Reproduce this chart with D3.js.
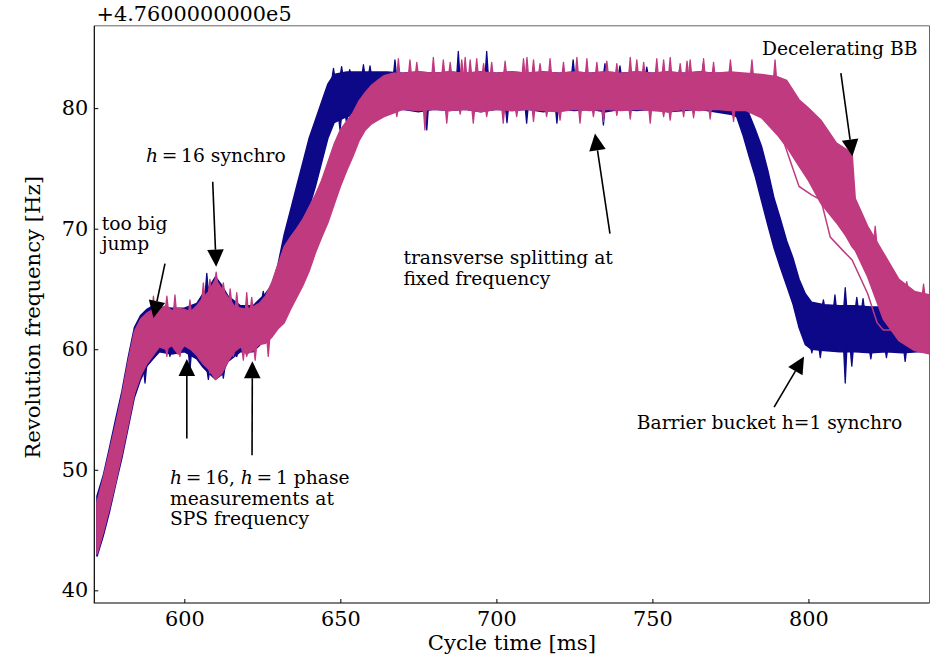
<!DOCTYPE html>
<html>
<head>
<meta charset="utf-8">
<script src="https://cdn.jsdelivr.net/npm/d3@7"></script>
<style>
  body { margin: 0; background: #fff; }
  text { font-family: 'DejaVu Serif', serif; fill: #000; }
</style>
</head>
<body>
<svg id="chart" width="933" height="656"></svg>
<script>
// offset of the y values (Hz), shown as the axis offset text
const yOffsetLabel = '+4.7600000000e5';

// blue traces: time [ms], lower / upper edge of the band [Hz]
const navyT = [
  572, 574, 576, 578, 580, 582, 584, 586, 588, 590,
  592, 596, 600, 604, 606, 608, 610, 612, 614, 618,
  622, 626, 628, 630, 632, 634, 636, 638, 640, 642,
  644, 646, 648, 652, 656, 660, 665, 670, 675, 680,
  685, 690, 695, 700, 705, 710, 715, 720, 725, 730,
  735, 740, 745, 750, 755, 760, 765, 770, 775, 777,
  779, 781, 783, 785, 787, 789, 791, 793, 795, 797,
  799, 801, 805, 810, 815, 820, 825, 830, 835, 839];
const navyLo = [
  42.8, 44.5, 46.5, 48.8, 51.0, 53.5, 56.0, 57.5, 58.6, 59.2,
  59.8, 59.6, 59.8, 59.2, 58.5, 58.0, 57.5, 57.9, 59.0, 59.8,
  59.8, 60.8, 61.5, 62.5, 64.3, 66.5, 68.5, 70.0, 71.8, 73.5,
  75.5, 77.5, 78.8, 79.3, 79.5, 79.6, 79.8, 79.9, 79.7, 79.9,
  79.8, 79.9, 79.7, 79.9, 79.8, 79.9, 79.7, 79.9, 79.8, 79.9,
  79.7, 79.9, 79.8, 79.9, 79.7, 79.8, 79.9, 79.7, 79.5, 79.3,
  77.8, 76.0, 74.3, 72.3, 70.3, 68.4, 66.8, 65.3, 63.8, 61.8,
  60.4, 60.0, 59.9, 59.8, 59.8, 59.7, 59.8, 59.7, 59.8, 59.8];
const navyHi = [
  47.8, 49.5, 51.8, 54.2, 56.5, 59.3, 61.8, 62.8, 63.3, 63.6,
  63.5, 63.4, 63.4, 63.8, 64.6, 65.2, 66.0, 65.3, 64.4, 63.6,
  63.6, 64.6, 65.3, 67.0, 69.5, 71.5, 73.5, 75.5, 77.5, 79.0,
  80.5, 82.0, 82.8, 83.0, 83.0, 83.0, 83.0, 82.9, 83.0, 82.9,
  83.0, 82.9, 83.0, 82.9, 83.0, 82.9, 83.0, 82.9, 83.0, 82.9,
  83.0, 82.9, 83.0, 82.9, 83.0, 82.9, 83.0, 82.9, 82.9, 82.8,
  81.5, 79.5, 78.2, 76.8, 74.8, 72.5, 70.8, 69.0, 67.6, 65.8,
  64.6, 63.9, 63.7, 63.6, 63.6, 63.5, 63.5, 63.5, 63.4, 63.4];
// single peaks sticking out of the blue band: [time, value]
const navyPeaksUp = [
  [607.2, 66.3], [625.3, 64.8], [647.8, 83.3], [650.4, 83.45], [653.0, 83.2],
  [657.4, 83.6], [659.5, 83.5], [667.5, 84.0], [687.8, 84.7], [696.9, 84.7],
  [724.6, 84.0], [734.8, 83.7], [739.6, 83.5], [748.2, 83.4], [758.8, 83.3],
  [766.3, 83.7], [804.8, 64.1], [808.5, 64.5], [811.8, 65.1], [815.5, 64.3],
  [817.5, 64.2]];
const navyPeaksDown = [
  [587.4, 57.2], [595.4, 59.4], [601.8, 58.3], [607.7, 57.5], [612.5, 57.6],
  [616.8, 59.4], [649.9, 78.2], [652.0, 78.75], [654.2, 79.0], [659.5, 79.2],
  [677.7, 78.2], [703.4, 78.8], [709.7, 78.75], [719.4, 78.75], [734.3, 78.6],
  [801.1, 59.7], [803.8, 59.3], [811.8, 57.2], [813.9, 58.6], [820.0, 59.2],
  [825.0, 59.3], [831.0, 59.0]];

// pink traces (decelerating BB)
const pinkT = [
  572, 574, 576, 578, 580, 582, 584, 586, 588, 590,
  592, 594, 596, 598, 600, 602, 604, 606, 608, 610,
  612, 614, 616, 618, 620, 622, 624, 626, 628, 630,
  632, 634, 636, 638, 640, 642, 644, 646, 648, 650,
  652, 654, 656, 658, 660, 662, 664, 667, 670, 675,
  680, 685, 690, 695, 700, 705, 710, 715, 720, 725,
  730, 735, 740, 745, 750, 755, 760, 765, 770, 775,
  780, 785, 790, 793, 797, 800, 804, 809, 812, 814,
  815, 819, 824, 829, 834, 839];
const pinkLo = [
  43.0, 44.8, 46.8, 49.0, 51.3, 53.8, 56.3, 57.8, 58.8, 59.5,
  60.2, 60.0, 60.3, 59.6, 60.3, 60.0, 59.5, 58.8, 58.3, 57.5,
  58.0, 59.0, 59.8, 60.2, 59.6, 59.9, 60.4, 60.5, 61.0, 61.7,
  62.2, 63.3, 64.3, 65.3, 66.5, 68.0, 69.3, 70.5, 72.0, 73.5,
  74.8, 76.0, 77.3, 78.2, 78.7, 79.0, 79.3, 79.6, 79.9, 79.8,
  79.9, 79.8, 79.9, 79.7, 79.9, 79.8, 79.9, 79.8, 79.7, 79.9,
  79.8, 79.9, 79.8, 79.9, 79.8, 79.7, 79.9, 79.8, 79.9, 79.8,
  79.8, 79.2, 77.8, 76.8, 75.2, 74.0, 72.1, 70.5, 69.4, 68.5,
  68.2, 66.0, 62.5, 60.7, 59.9, 59.6];
const pinkHi = [
  47.3, 49.3, 51.5, 53.8, 56.2, 59.0, 61.5, 62.5, 63.0, 63.3,
  63.3, 63.6, 63.2, 63.4, 63.3, 63.1, 63.6, 64.3, 64.8, 65.8,
  65.0, 64.3, 63.6, 63.4, 63.3, 63.5, 63.8, 64.4, 65.5, 67.0,
  68.5, 69.3, 70.0, 70.8, 71.8, 72.8, 74.0, 75.5, 77.0, 78.2,
  78.9, 79.6, 80.6, 81.3, 81.9, 82.3, 82.7, 82.9, 82.9, 83.0,
  82.9, 83.0, 82.9, 83.0, 82.9, 83.0, 82.9, 83.0, 82.9, 83.0,
  82.9, 83.0, 82.9, 83.0, 82.9, 83.0, 82.9, 83.0, 82.9, 83.0,
  82.9, 82.8, 82.6, 82.3, 80.7, 80.0, 79.0, 77.1, 76.6, 76.2,
  72.5, 70.2, 68.0, 65.8, 64.8, 64.5];
// the slowest single pink trace, below the pink band during deceleration
const pinkStrayT = [786, 790, 793, 797, 801, 804, 807, 811, 814, 819, 822, 824, 828, 831, 835];
const pinkStrayV = [80.0, 78.8, 76.5, 73.5, 72.8, 72.4, 69.3, 68.2, 67.4, 64.6, 62.2, 61.6, 61.6, 60.5, 60.0];
const pinkPeaksUp = [
  [590.1, 64.4], [594.4, 64.4], [597.0, 64.5], [601.8, 64.1], [606.1, 65.5],
  [608.2, 65.8], [610.2, 66.4], [612.5, 65.5], [614.7, 65.0], [616.8, 64.7],
  [620.0, 64.7], [621.6, 64.3],
  [668.6, 84.1], [672.3, 84.0], [674.5, 83.8], [679.8, 84.2], [683.0, 84.0],
  [685.2, 83.8], [688.9, 84.0], [690.0, 84.2], [691.6, 84.0], [693.7, 84.1],
  [695.9, 83.7], [698.5, 83.8], [702.8, 83.9], [708.7, 84.1], [709.8, 84.2],
  [711.9, 84.0], [714.0, 83.7], [717.2, 84.1], [721.5, 83.8], [725.8, 84.2],
  [729.0, 84.1], [732.2, 83.8], [735.4, 83.9], [738.6, 83.7], [742.9, 84.2],
  [745.0, 84.0], [747.2, 83.8], [751.4, 84.1], [753.6, 84.0], [755.7, 84.2],
  [758.9, 83.7], [761.1, 83.9], [762.1, 84.0], [766.4, 84.1], [769.6, 83.8],
  [775.0, 84.0], [781.9, 84.0], [789.3, 84.0], [812.3, 76.6], [821.4, 70.2],
  [831.5, 65.6], [836.9, 65.4]];
const pinkPeaksDown = [
  [594.4, 59.4], [598.6, 59.4], [605.0, 59.1], [608.2, 58.0], [610.2, 57.7],
  [612.0, 58.3], [615.7, 59.4], [618.9, 59.1], [620.0, 59.4], [622.7, 59.1],
  [626.9, 59.4],
  [668.1, 79.3], [677.1, 78.2], [684.1, 78.75], [688.4, 79.5], [692.6, 78.75],
  [696.9, 79.3], [702.2, 78.75], [706.5, 79.3], [711.9, 78.9], [716.1, 79.3],
  [720.4, 79.0], [726.8, 78.75], [731.1, 79.3], [734.3, 78.9], [738.6, 79.4],
  [742.9, 79.1], [749.3, 78.75], [753.6, 79.3], [755.7, 79.0], [760.0, 79.3],
  [763.2, 79.2], [768.5, 79.1], [776.0, 78.9]];

const xTicks = [600, 650, 700, 750, 800];
const yTicks = [40, 50, 60, 70, 80];

// annotations: text anchor, arrow tail and tip in data units; *h* = italic
const notes = [
  { lines: ['too big', 'jump'], at: [573.5, 69.9], tail: [593.8, 67.1], tip: [590.1, 62.6] },
  { lines: ['*h*\u2009=\u200916 synchro'], at: [587.7, 75.5], tail: [609.1, 73.9], tip: [610.2, 66.85] },
  { lines: ['transverse splitting at', 'fixed frequency'], at: [670.2, 67.05], tail: [736.4, 69.6], tip: [731.6, 77.9] },
  { lines: ['Decelerating BB'], at: [785.1, 84.42], tail: [810.4, 82.9], tip: [814.1, 76.0] },
  { lines: ['Barrier bucket h=1 synchro'], at: [745.0, 53.36], tail: [789.0, 55.2], tip: [798.6, 59.4] },
  { lines: ['*h*\u2009=\u200916, *h*\u2009=\u20091 phase', 'measurements at', 'SPS frequency'], at: [595.4, 48.8] }
];
const extraArrows = [
  { tail: [600.8, 52.6], tip: [600.8, 59.2] },
  { tail: [621.7, 51.2], tip: [621.8, 59.0] }
];

const navyColor = '#0d0887';
const pinkColor = '#c03a80';

const width = 933, height = 656;
const margin = { top: 25.8, right: 3.5, bottom: 53, left: 94.3 };

const svg = d3.select('#chart');

const x = d3.scaleLinear()
  .domain([571.15, 838.8])
  .range([margin.left, width - margin.right]);
const y = d3.scaleLinear()
  .domain([38.95, 86.83])
  .range([height - margin.bottom, margin.top]);

svg.append('defs').append('clipPath').attr('id', 'plot')
  .append('rect')
  .attr('x', margin.left).attr('y', margin.top)
  .attr('width', width - margin.left - margin.right)
  .attr('height', height - margin.top - margin.bottom);

const area = d3.area()
  .x(d => x(d.t))
  .y0(d => y(d.lo))
  .y1(d => y(d.hi));

const band = (T, lo, hi) => T.map((t, i) => ({ t, lo: lo[i], hi: hi[i] }));

const plot = svg.append('g').attr('clip-path', 'url(#plot)');

// a peak grows out of the band edge at that time
function drawPeaks(peaks, T, edge, inward, color) {
  const edgeAt = d3.scaleLinear().domain(T).range(edge).clamp(true);
  plot.append('g').selectAll('path')
    .data(peaks)
    .enter()
    .append('path')
    .attr('d', ([t, v]) => {
      const b = y(edgeAt(t) + inward);
      return `M${x(t - 0.55)},${b}L${x(t)},${y(v)}L${x(t + 0.55)},${b}Z`;
    })
    .attr('fill', color)
    .attr('stroke', color)
    .attr('stroke-width', 1.3)
    .attr('stroke-linejoin', 'round');
}

// blue band
plot.append('path')
  .attr('d', area(band(navyT, navyLo, navyHi)))
  .attr('fill', navyColor)
  .attr('stroke', navyColor)
  .attr('stroke-width', 1.5);
drawPeaks(navyPeaksUp, navyT, navyHi, -0.4, navyColor);
drawPeaks(navyPeaksDown, navyT, navyLo, 0.4, navyColor);

// pink band
plot.append('path')
  .attr('d', area(band(pinkT, pinkLo, pinkHi)))
  .attr('fill', pinkColor)
  .attr('stroke', pinkColor)
  .attr('stroke-width', 1.5);
plot.append('path')
  .attr('d', d3.line().x(d => x(d.t)).y(d => y(d.v))(pinkStrayT.map((t, i) => ({ t, v: pinkStrayV[i] }))))
  .attr('fill', 'none')
  .attr('stroke', pinkColor)
  .attr('stroke-width', 1.5);
drawPeaks(pinkPeaksUp, pinkT, pinkHi, -0.4, pinkColor);
drawPeaks(pinkPeaksDown, pinkT, pinkLo, 0.4, pinkColor);

// axes, ticks pointing inwards
const xAxis = svg.append('g')
  .attr('transform', `translate(0,${height - margin.bottom})`)
  .call(d3.axisBottom(x).tickValues(xTicks).tickSizeInner(-4).tickSizeOuter(0).tickPadding(8));
const yAxis = svg.append('g')
  .attr('transform', `translate(${margin.left},0)`)
  .call(d3.axisLeft(y).tickValues(yTicks).tickSizeInner(-4).tickSizeOuter(0).tickPadding(6));
[xAxis, yAxis].forEach(a => {
  a.select('.domain').remove();
  a.selectAll('text').style('font-family', "'DejaVu Serif', serif").style('font-size', '20.8px');
  a.selectAll('line').attr('stroke', '#000');
});

// frame
const x0 = margin.left, x1 = width - margin.right, y0 = margin.top, y1 = height - margin.bottom;
svg.append('path').attr('d', `M${x0},${y0}H${x1}V${y1}`).attr('fill', 'none').attr('stroke', '#666').attr('stroke-width', 1);
svg.append('path').attr('d', `M${x0},${y0}V${y1}H${x1}`).attr('fill', 'none').attr('stroke', '#000').attr('stroke-width', 1.2);

svg.append('text')
  .attr('x', 96.5).attr('y', 20.5)
  .style('font-size', '20.8px')
  .text(yOffsetLabel);

svg.append('text')
  .attr('x', (x0 + x1) / 2).attr('y', 650)
  .attr('text-anchor', 'middle')
  .style('font-size', '21.2px')
  .text('Cycle time [ms]');

svg.append('text')
  .attr('transform', `translate(40,${(y0 + y1) / 2 + 3}) rotate(-90)`)
  .attr('text-anchor', 'middle')
  .style('font-size', '21.2px')
  .text('Revolution frequency [Hz]');

// annotations
function arrow(tail, tip) {
  const ax = x(tail[0]), ay = y(tail[1]), bx = x(tip[0]), by = y(tip[1]);
  const len = Math.hypot(bx - ax, by - ay);
  const ux = (bx - ax) / len, uy = (by - ay) / len;
  const hl = 17, hw = 8.3;
  const cx = bx - ux * hl, cy = by - uy * hl;
  svg.append('line')
    .attr('x1', ax).attr('y1', ay).attr('x2', cx).attr('y2', cy)
    .attr('stroke', '#000').attr('stroke-width', 1.6);
  svg.append('path')
    .attr('d', `M${bx},${by}L${cx - uy * hw},${cy + ux * hw}L${cx + uy * hw},${cy - ux * hw}Z`)
    .attr('fill', '#000');
}

notes.forEach(n => {
  const t = svg.append('text')
    .attr('x', x(n.at[0])).attr('y', y(n.at[1]))
    .style('font-size', '18.7px');
  n.lines.forEach((line, li) => {
    let first = true;
    line.split('*').forEach((part, pi) => {
      if (!part) return;
      const s = t.append('tspan').text(part);
      if (pi % 2 === 1) s.style('font-style', 'italic');
      if (first) {
        s.attr('x', x(n.at[0])).attr('dy', li === 0 ? 0 : 20.5);
        first = false;
      }
    });
  });
  if (n.tail) arrow(n.tail, n.tip);
});
extraArrows.forEach(a => arrow(a.tail, a.tip));
</script>
</body>
</html>
